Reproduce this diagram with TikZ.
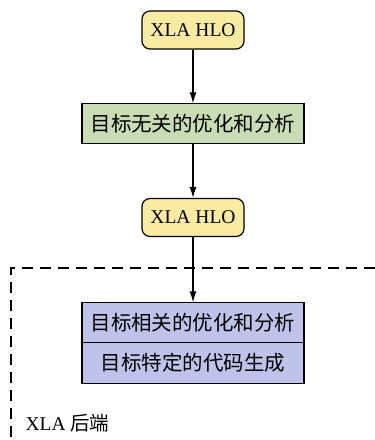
\documentclass[tikz,border=0pt]{standalone}
\usepackage{fontspec}
\setmainfont{Liberation Serif}
\newfontfamily\cjk{Noto Sans CJK SC}
\usetikzlibrary{arrows.meta}

\definecolor{hloyellow}{HTML}{FAEBA3}
\definecolor{optgreen}{HTML}{C9DCB3}
\definecolor{backblue}{HTML}{BFC3EA}

\begin{document}
\begin{tikzpicture}[
    x=1pt, y=-1pt,
    hlo/.style={
        draw,
        line width=1.2pt,
        rounded corners=8pt,
        fill=hloyellow,
        minimum width=102pt,
        minimum height=38pt,
        inner sep=0pt,
        font=\fontsize{19.5}{21}\selectfont
    },
    pass/.style={
        draw,
        line width=1.2pt,
        minimum width=222pt,
        minimum height=40.5pt,
        inner sep=0pt,
        outer sep=0pt,
        font=\fontsize{20.5}{22}\cjk
    },
    flow/.style={
        line width=1.2pt,
        -{Latex[length=11pt,width=7pt]}
    }
]
\useasboundingbox (0,0) rectangle (375,440);

% Backend boundary
\draw[line width=1.2pt, dash pattern=on 11pt off 7pt] (375,268) -- (11,268) -- (11,440);
\node[anchor=west, font=\fontsize{19.5}{21}\selectfont] (backend) at (22,423) {XLA {\cjk 后端}};

% HLO stages
\node[hlo] (hlo1) at (193,30) {XLA HLO};
\node[pass, fill=optgreen] (indep) at (193,123.5) {目标无关的优化和分析};
\node[hlo] (hlo2) at (193,217.5) {XLA HLO};

% Backend passes
\node[pass, fill=backblue] (dep) at (193,322.5) {目标相关的优化和分析};
\node[pass, fill=backblue, anchor=north] (codegen) at (dep.south) {目标特定的代码生成};

% Flow
\draw[flow] (hlo1) -- (indep);
\draw[flow] (indep) -- (hlo2);
\draw[flow] (hlo2) -- (dep);

\end{tikzpicture}
\end{document}
